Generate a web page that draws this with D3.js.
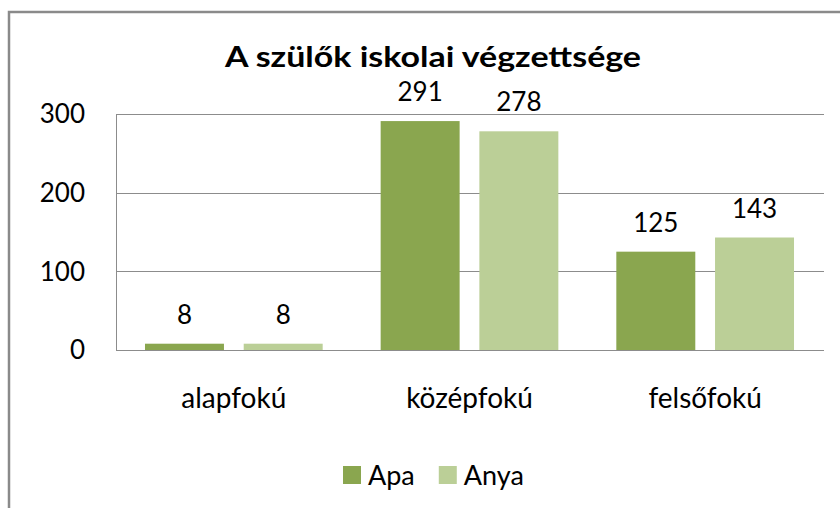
<!DOCTYPE html>
<html>
<head>
<meta charset="utf-8">
<script src="https://cdn.jsdelivr.net/npm/d3@7"></script>
<style>
  html, body { margin: 0; padding: 0; background: #fff; }
  svg { display: block; font-family: Lato, "Open Sans", sans-serif; }
</style>
</head>
<body>
<svg id="chart" width="840" height="508"></svg>
<script>
const title = "A szülők iskolai végzettsége";
const categories = ["alapfokú", "középfokú", "felsőfokú"];
const series = ["Apa", "Anya"];
const apa = [8, 291, 125];
const anya = [8, 278, 143];
const yTicks = [0, 100, 200, 300];
const colors = { Apa: "#8aa64f", Anya: "#bbcf97" };

const svg = d3.select("#chart");
const width = 840,
  height = 508,
  plot = { left: 116, right: 823, top: 114, bottom: 350 },
  gridColor = "#8c8c8c",
  numSize = 26,
  labelSize = 28;

// outer frame (only left and top edges fall inside the picture)
svg.append("rect")
  .attr("x", 9)
  .attr("y", 12)
  .attr("width", width + 20)
  .attr("height", height + 20)
  .attr("fill", "#fff")
  .attr("stroke", "#8a8a8a")
  .attr("stroke-width", 2.5);

svg.append("text")
  .attr("x", 433)
  .attr("y", 67)
  .attr("text-anchor", "middle")
  .attr("font-weight", "bold")
  .attr("font-size", 29)
  .attr("textLength", 416)
  .attr("lengthAdjust", "spacingAndGlyphs")
  .attr("fill", "#000")
  .text(title);

const x0 = d3.scaleBand()
  .domain(categories)
  .range([plot.left, plot.right])
  .paddingInner(0.246)
  .paddingOuter(0.123);

const x1 = d3.scaleBand()
  .domain(series)
  .range([0, x0.bandwidth()])
  .paddingInner(0.2);

const y = d3.scaleLinear().domain([0, 300]).range([plot.bottom, plot.top]);

// gridlines
svg.append("g")
  .selectAll("line")
  .data(yTicks)
  .join("line")
  .attr("x1", plot.left)
  .attr("x2", plot.right + 1)
  .attr("y1", (d) => Math.round(y(d)) + 0.5)
  .attr("y2", (d) => Math.round(y(d)) + 0.5)
  .attr("stroke", gridColor)
  .attr("stroke-width", 1);

svg.append("line")
  .attr("x1", plot.left + 0.5)
  .attr("x2", plot.left + 0.5)
  .attr("y1", y(300))
  .attr("y2", y(0) + 1)
  .attr("stroke", gridColor);

// y labels
svg.append("g")
  .selectAll("text")
  .data(yTicks)
  .join("text")
  .attr("x", 85)
  .attr("y", (d) => y(d))
  .attr("dy", "0.36em")
  .attr("text-anchor", "end")
  .attr("font-size", numSize)
  .attr("fill", "#000")
  .text((d) => d);

const rows = categories.map((c, i) => ({
  cat: c,
  values: [
    { key: "Apa", value: apa[i] },
    { key: "Anya", value: anya[i] },
  ],
}));

const groups = svg.append("g")
  .selectAll("g")
  .data(rows)
  .join("g")
  .attr("transform", (d) => "translate(" + x0(d.cat) + ",0)");

groups.selectAll("rect")
  .data((d) => d.values)
  .join("rect")
  .attr("x", (d) => x1(d.key))
  .attr("y", (d) => y(d.value))
  .attr("width", x1.bandwidth())
  .attr("height", (d) => y(0) - y(d.value))
  .attr("fill", (d) => colors[d.key]);

groups.selectAll("text")
  .data((d) => d.values)
  .join("text")
  .attr("x", (d) => x1(d.key) + x1.bandwidth() / 2)
  .attr("y", (d) => y(d.value) - 20)
  .attr("text-anchor", "middle")
  .attr("font-size", numSize)
  .attr("fill", "#000")
  .text((d) => d.value);

// category labels
svg.append("g")
  .selectAll("text")
  .data(categories)
  .join("text")
  .attr("x", (d) => x0(d) + x0.bandwidth() / 2)
  .attr("y", 408)
  .attr("text-anchor", "middle")
  .attr("font-size", labelSize)
  .attr("fill", "#000")
  .text((d) => d);

// legend
const legend = svg.append("g").attr("transform", "translate(343,466)");
let lx = 0;
series.forEach((s) => {
  const item = legend.append("g").attr("transform", "translate(" + lx + ",0)");
  item.append("rect")
    .attr("width", 18)
    .attr("height", 18)
    .attr("fill", colors[s]);
  const t = item.append("text")
    .attr("x", 25)
    .attr("y", 19)
    .attr("font-size", 27)
    .attr("fill", "#000")
    .text(s);
  lx += 25 + t.node().getComputedTextLength() + 24;
});
</script>
</body>
</html>
